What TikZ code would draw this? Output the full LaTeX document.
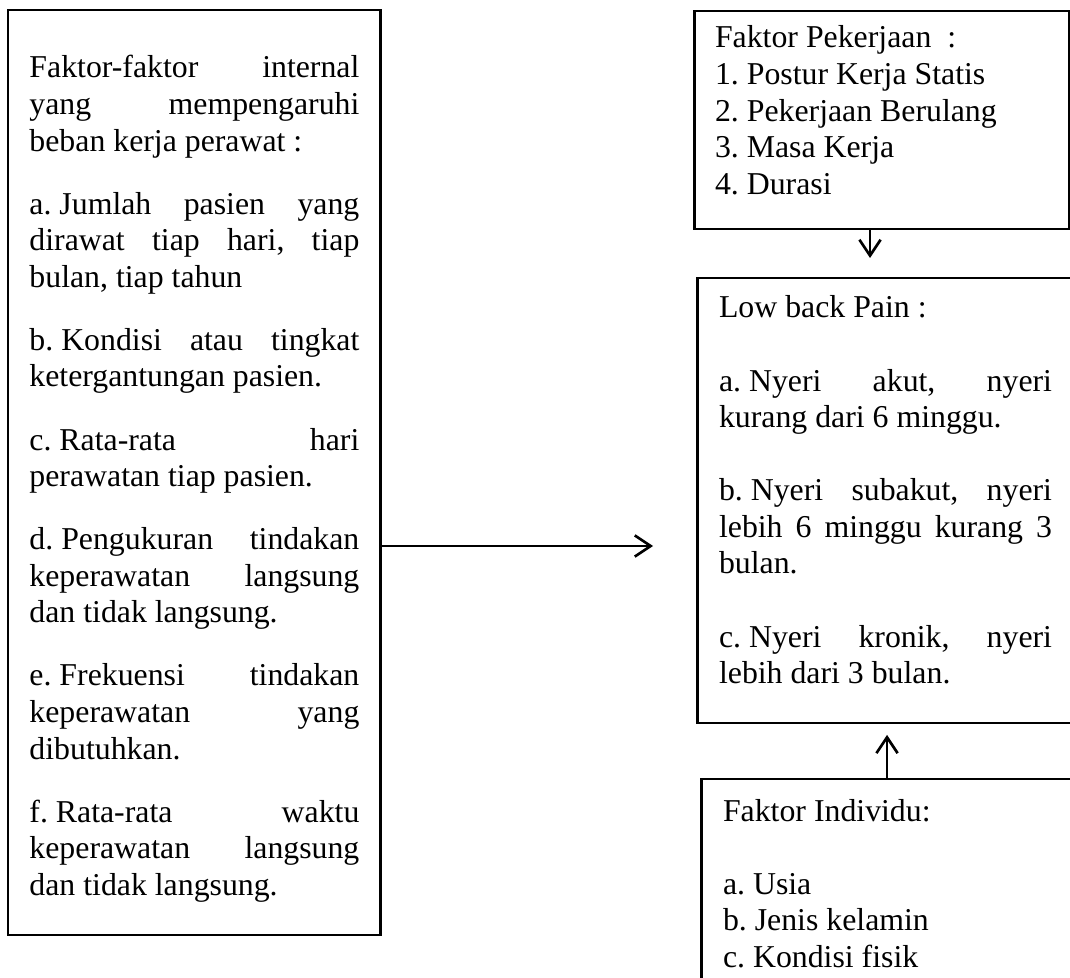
\documentclass[tikz,border=0pt]{standalone}
\usepackage{fontspec}
\setmainfont{Liberation Serif}
\usetikzlibrary{positioning,arrows.meta}
\tolerance=10000 \hbadness=10000 \vbadness=10000
\hyphenpenalty=10000 \exhyphenpenalty=10000
\frenchspacing
\newcommand{\butir}[1]{#1\hspace{0.25em}}
\begin{document}
\begin{tikzpicture}[x=1pt,y=-1pt]
    % Styles
        \tikzstyle{kotak} = [rectangle, draw, line width=1.1pt, outer sep=0pt, anchor=north west, font=\fontsize{12pt}{13.8pt}\selectfont]
        \tikzstyle{panah} = [draw, line width=1pt, -{Straight Barb[length=6pt,width=8pt]}]
        \path [use as bounding box, clip] (0,0) rectangle (403.77,368.68);
    % left column
        \node [kotak, inner xsep=8.1pt, inner ysep=16pt] (internal) at (3.02,3.77) {\parbox[t][317.06pt][t]{124.5pt}{\setlength{\parskip}{10pt}%
            \strut Faktor-faktor internal\linebreak yang mempengaruhi\linebreak beban kerja perawat :\par
            \butir{a.}Jumlah pasien yang\linebreak dirawat tiap hari, tiap\linebreak bulan, tiap tahun\par
            \butir{b.}Kondisi atau tingkat\linebreak ketergantungan pasien.\par
            \butir{c.}Rata-rata hari\linebreak perawatan tiap pasien.\par
            \butir{d.}Pengukuran tindakan\linebreak keperawatan langsung\linebreak dan tidak langsung.\par
            \butir{e.}Frekuensi tindakan\linebreak keperawatan yang\linebreak dibutuhkan.\par
            \butir{f.}Rata-rata waktu\linebreak keperawatan langsung\linebreak dan tidak langsung.}};
    % right column
        \node [kotak, inner xsep=7.92pt, inner ysep=4.3pt] (pekerjaan) at (261.9,4.15) {\parbox[t][73.66pt][t]{125.66pt}{%
            \strut Faktor Pekerjaan\ \ :\\ 1. Postur Kerja Statis\\ 2. Pekerjaan Berulang\\ 3. Masa Kerja\\ 4. Durasi}};
        \node [kotak, inner xsep=8.3pt, inner ysep=5.43pt, below right=18.49pt and 1.13pt of pekerjaan.south west] (lbp) {\parbox[t][157.06pt][t]{125.66pt}{%
            \strut Low back Pain :\par\vspace{13.8pt}
            \butir{a.}Nyeri akut, nyeri\linebreak kurang dari 6 minggu.\par\vspace{13.8pt}
            \butir{b.}Nyeri subakut, nyeri\linebreak lebih 6 minggu kurang 3\linebreak bulan.\par\vspace{13.8pt}
            \butir{c.}Nyeri kronik, nyeri\linebreak lebih dari 3 bulan.}};
        \node [kotak, inner xsep=8.3pt, inner ysep=6.2pt, below right=21.13pt and 1.51pt of lbp.south west] (individu) {\parbox[t][90pt][t]{125.66pt}{%
            \strut Faktor Individu:\\[13.8pt] a. Usia\\ b. Jenis kelamin\\ c. Kondisi fisik}};
    % Draw edges
        \coordinate (baris) at (0,206.04);
        \coordinate (turun) at (328.3,0);
        \coordinate (naik) at (334.72,0);
        \path [panah, shorten >=16.6pt] (internal.east |- baris) -- (lbp.west |- baris);
        \path [panah, shorten >=7.55pt] (pekerjaan.south -| turun) -- (lbp.north -| turun);
        \path [panah, shorten >=4.5pt] (individu.north -| naik) -- (lbp.south -| naik);
\end{tikzpicture}
\end{document}
